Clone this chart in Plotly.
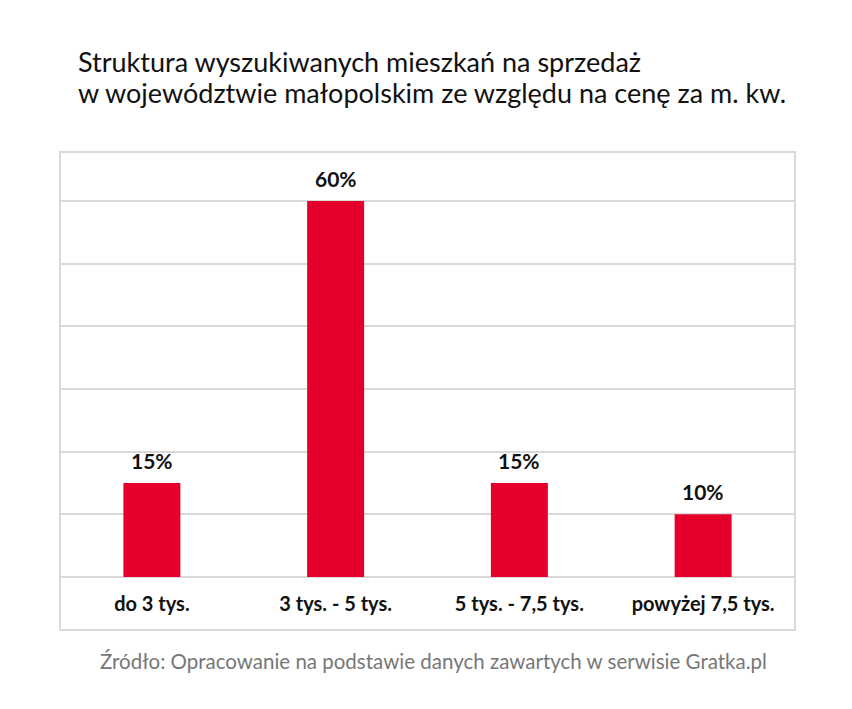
import plotly.graph_objects as go

categories = ["do 3 tys.", "3 tys. - 5 tys.", "5 tys. - 7,5 tys.", "powyżej 7,5 tys."]
values = [15, 60, 15, 10]
labels = ["15%", "60%", "15%", "10%"]
title_lines = ["Struktura wyszukiwanych mieszkań na sprzedaż",
               "w województwie małopolskim ze względu na cenę za m. kw."]
source = "Źródło: Opracowanie na podstawie danych zawartych w serwisie Gratka.pl"

# page body has an 8px margin; figure is laid out to compensate
W, H = 844, 701
L, R, T, B = 52, 57, 144, 132
plot_w = W - L - R
plot_h = H - T - B

def px(xw):
    return (xw - 60) / plot_w

def py(yw):
    return (577 - yw) / plot_h

fig = go.Figure()
fig.add_trace(go.Bar(
    x=categories, y=values,
    marker=dict(color="#e4002b", line=dict(width=0)),
    cliponaxis=False, hoverinfo="skip",
))

for c, v, t in zip(categories, values, labels):
    fig.add_annotation(x=c, y=v, text=t, xref="x", yref="y",
                       xanchor="center", yanchor="bottom", yshift=8, showarrow=False,
                       font=dict(family="Lato", size=21, color="#111111", weight="bold"))

fig.update_layout(
    width=W, height=H,
    margin=dict(l=L, r=R, t=T, b=B, pad=0),
    paper_bgcolor="white", plot_bgcolor="white",
    bargap=0.69,
    showlegend=False,
    font=dict(family="Lato", color="#111111"),
    xaxis=dict(showgrid=False, showline=False, zeroline=False,
               ticks="outside", ticklen=9, tickcolor="rgba(0,0,0,0)",
               tickfont=dict(family="Lato", size=20, color="#111111", weight="bold")),
    yaxis=dict(range=[0, 67.8], dtick=10, showgrid=True, gridcolor="#d9d9d9", gridwidth=1.5,
               showticklabels=False, zeroline=True, zerolinecolor="#d9d9d9", zerolinewidth=1.5,
               showline=False),
)

fig.add_shape(type="rect", xref="paper", yref="paper",
              x0=0, x1=1, y0=py(630), y1=1,
              line=dict(color="#d9d9d9", width=2), fillcolor="rgba(0,0,0,0)", layer="below")

for line, yc in zip(title_lines, [61, 93]):
    fig.add_annotation(text=line, xref="paper", yref="paper", x=px(76), y=py(yc),
                       xanchor="left", yanchor="middle", showarrow=False,
                       font=dict(family="Lato", size=27, color="#111111"))

fig.add_annotation(text=source,
                   xref="paper", yref="paper", x=px(433), y=py(661),
                   xanchor="center", yanchor="middle", showarrow=False,
                   font=dict(family="Lato", size=20.5, color="#777777"))

fig.write_html("out.html")
